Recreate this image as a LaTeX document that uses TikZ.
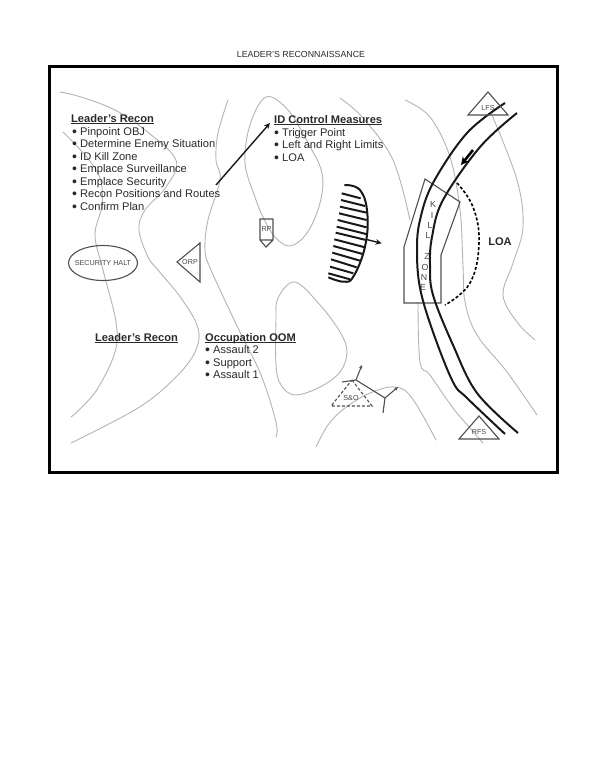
\documentclass[tikz,border=0pt]{standalone}
\usepackage{fontspec}
\setmainfont{Liberation Sans}
\usetikzlibrary{arrows.meta,shapes.geometric}
\definecolor{ink}{HTML}{2A2A2A}
\definecolor{contour}{HTML}{B4B4B4}
\definecolor{symbolgray}{HTML}{505050}
\definecolor{symboltext}{HTML}{484848}
\tikzset{
  contourline/.style={draw=contour,line width=0.9pt,line cap=round},
  road/.style={draw=black!90,line width=2pt,line cap=butt},
  symbolline/.style={draw=symbolgray,line width=1.1pt,line join=miter},
  txt/.style={inner sep=0pt,anchor=base west,text=ink,font=\fontsize{11.1}{13}\selectfont},
  head/.style={txt,font=\bfseries\fontsize{11.1}{13}\selectfont},
  small/.style={inner sep=0pt,text=symboltext,font=\fontsize{7.2}{8}\selectfont},
  kz/.style={inner sep=0pt,text=symboltext,font=\fontsize{8.8}{10}\selectfont},
  hatch/.style={draw=black!90,line width=2pt},
  blackarrow/.style={draw=black!90,line width=1.4pt,-{Stealth[length=6pt,width=5.5pt]}}
}
\newcommand{\bul}{\makebox[8pt][l]{\smash{\fontsize{14}{14}\selectfont\raisebox{-1.1pt}{\textbullet}}}}
\newcommand{\headline}[1]{\underline{\smash{#1}}}
\begin{document}
\begin{tikzpicture}[x=1pt,y=-1pt]
\useasboundingbox (0,0) rectangle (600,758);
\fill[white] (0,0) rectangle (600,758);
% contour lines
\draw[contourline] plot[smooth,tension=0.6] coordinates {(60,92)(81,97)(115,110)(145,130)(176,160)(166,187)(145,210)(139,230)(148,257)(158,270)(181,298)(198,328)(195,352)(175,378)(138,408)(71,443)};
\draw[contourline] plot[smooth,tension=0.6] coordinates {(63,132)(85,155)(100,178)(102,205)(95,235)(103,270)(116,322)(115,352)(98,388)(81,408)(71,417)};
\draw[contourline] plot[smooth,tension=0.6] coordinates {(228,100)(218,133)(216,160)(220,180)(208,220)(205,250)(211,270)(238,328)(261,375)(276,422)(276,437)};
\draw[contourline] plot[smooth cycle,tension=0.6] coordinates {(266,97)(288,110)(308,143)(322,173)(320,203)(307,233)(290,246)(275,237)(263,217)(255,197)(245,163)(250,125)};
\draw[contourline] plot[smooth cycle,tension=0.6] coordinates {(295,282)(320,305)(340,332)(347,352)(340,372)(320,387)(295,395)(281,385)(276,365)(276,320)(278,298)};
\draw[contourline] plot[smooth,tension=0.6] coordinates {(340,98)(363,118)(393,160)(410,220)};
\draw[contourline] plot[smooth,tension=0.6] coordinates {(418,303)(420,362)(430,375)(453,408)(470,428)(483,443)};
\draw[contourline] plot[smooth,tension=0.6] coordinates {(405,100)(430,117)(450,157)(460,210)(463,265)(465,302)(477,335)(507,372)(537,415)};
\draw[contourline] plot[smooth,tension=0.6] coordinates {(492,115)(517,180)(523,227)(513,263)(503,295)(517,322)(535,340)};
\draw[contourline] plot[smooth,tension=0.6] coordinates {(316,447)(328,425)(345,408)(370,393)(395,387)(412,398)(436,440)};
% frame
\draw[black,line width=3pt] (49.5,66.5) rectangle (557.5,472.5);
% title
\node[inner sep=0pt,text=ink,font=\fontsize{8.8}{10}\selectfont] (title) at (301,54) {LEADER'S RECONNAISSANCE};
% kill zone
\draw[symbolline] (425,179) -- (460,202) -- (441,255) -- (441,303) -- (404,303) -- (404,247) -- cycle;
% roads
\draw[road] plot[smooth,tension=0.6] coordinates {(505,103)(467,133)(433,183)(420,220)(417,250)(420,288)(433,332)(453,382)(467,398)(505,434)};
\draw[road] plot[smooth,tension=0.6] coordinates {(517,113)(480,147)(443,200)(432,237)(430,265)(433,295)(453,345)(477,393)(518,433)};
\coordinate (flowA) at (473,150);
\coordinate (flowB) at (461,165);
\draw[draw=black,line width=2.6pt,-{Stealth[length=8pt,width=8pt]}] (flowA) -- (flowB);
% kill zone letters
\node[kz] (k1) at (433,204) {K};
\node[kz] (k2) at (432,215) {I};
\node[kz] (k3) at (430,225) {L};
\node[kz] (k4) at (428,235) {L};
\node[kz] (k5) at (427,256) {Z};
\node[kz] (k6) at (425,267) {O};
\node[kz] (k7) at (424,277) {N};
\node[kz] (k8) at (423,287) {E};
% LOA
\draw[draw=black,line width=1.6pt,dash pattern=on 3pt off 2pt] plot[smooth,tension=0.7] coordinates {(457,183)(473,207)(479,243)(470,283)(445,305)};
\node[inner sep=0pt,text=ink,font=\bfseries\fontsize{11.1}{13}\selectfont] (loa) at (500,242) {LOA};
% hatched obstacle
\begin{scope}[shift={(240,170)},x=0.3333pt,y=-0.3333pt]
\draw[draw=black!90,line width=2pt] plot[smooth,tension=0.7] coordinates {(313,45)(360,60)(382,130)(375,230)(340,320)(310,335)(265,322)};
\foreach \xa/\ya/\xb/\yb in {305/70/362/85,303/90/375/108,300/110/380/128,297/130/380/150,293/150/380/172,290/170/378/192,287/188/378/210,283/208/375/232,280/228/368/252,277/248/360/272,273/268/350/292,270/290/340/310,265/310/330/328}
  \draw[hatch] (\xa,\ya) -- (\xb,\yb);
\coordinate (obstacleOut) at (378,208);
\coordinate (obstacleTip) at (425,220);
\end{scope}
\draw[blackarrow] (obstacleOut) -- (obstacleTip);
% arrow between lists
\coordinate (reconOut) at (216,185);
\coordinate (controlIn) at (270,123);
\draw[blackarrow] (reconOut) -- (controlIn);
% RP
\draw[symbolline] (260,219) -- (273,219) -- (273,240) -- (266,247) -- (260,240) -- cycle (260,240) -- (273,240);
\node[small] (rp) at (266.5,229) {RP};
% ORP
\draw[symbolline] (200,243) -- (200,282) -- (177,262) -- cycle;
\node[small] (orp) at (190,262) {ORP};
% security halt
\node[draw=symbolgray,line width=1.1pt,ellipse,minimum width=69pt,minimum height=35pt,inner sep=0pt,text=symboltext,font=\fontsize{7.2}{8}\selectfont] (halt) at (103,263) {\makebox[0pt]{SECURITY HALT}};
% S&O
\draw[symbolline,dash pattern=on 3pt off 2pt] (352,380) -- (372,406) -- (331,406) -- cycle;
\node[small] (so) at (351,398) {S\&O};
\coordinate (b0) at (342,382);
\coordinate (b1) at (356,380);
\coordinate (b2) at (385,398);
\coordinate (b3) at (383,413);
\draw[symbolline] (b0) -- (b1) -- (b2) -- (b3);
\draw[symbolline,-{Stealth[length=4pt,width=3.5pt]}] (b1) -- (362,365);
\draw[symbolline,-{Stealth[length=4pt,width=3.5pt]}] (b2) -- (398,387);
% LFS / RFS
\draw[symbolline] (488,92) -- (508,115) -- (468,115) -- cycle;
\node[small] (lfs) at (488,108) {LFS};
\draw[symbolline] (479,416) -- (499,439) -- (459,439) -- cycle;
\node[small] (rfs) at (479,432) {RFS};
% text lists
\node[head] (h1) at (71,122) {\headline{Leader's Recon}};
\node[txt] (a1) at (72,135) {\bul Pinpoint OBJ};
\node[txt] (a2) at (72,147) {\bul Determine Enemy Situation};
\node[txt] (a3) at (72,160) {\bul ID Kill Zone};
\node[txt] (a4) at (72,172) {\bul Emplace Surveillance};
\node[txt] (a5) at (72,185) {\bul Emplace Security};
\node[txt] (a6) at (72,197) {\bul Recon Positions and Routes};
\node[txt] (a7) at (72,210) {\bul Confirm Plan};
\node[head] (h2) at (274,123) {\headline{ID Control Measures}};
\node[txt] (c1) at (274,136) {\bul Trigger Point};
\node[txt] (c2) at (274,148) {\bul Left and Right Limits};
\node[txt] (c3) at (274,161) {\bul LOA};
\node[head] (h3) at (95,341) {\headline{Leader's Recon}};
\node[head] (h4) at (205,341) {\headline{Occupation OOM}};
\node[txt] (o1) at (205,353) {\bul Assault 2};
\node[txt] (o2) at (205,366) {\bul Support};
\node[txt] (o3) at (205,378) {\bul Assault 1};
\end{tikzpicture}
\end{document}
